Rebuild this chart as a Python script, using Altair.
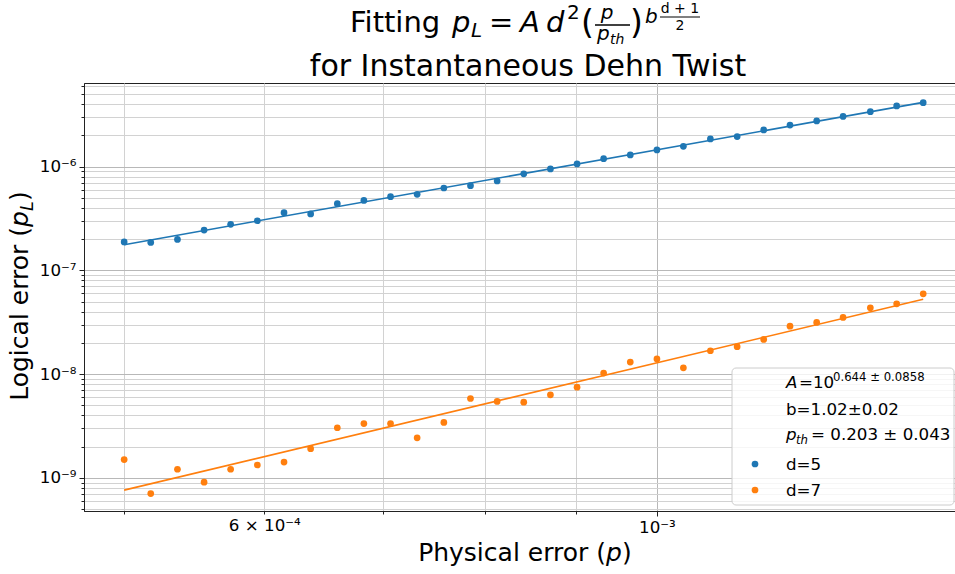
import altair as alt
import pandas as pd

# ---------------- data ----------------
p_values = [5.000e-4, 5.176e-4, 5.359e-4, 5.548e-4, 5.743e-4, 5.946e-4, 6.156e-4, 6.373e-4,
            6.598e-4, 6.830e-4, 7.071e-4, 7.320e-4, 7.579e-4, 7.846e-4, 8.123e-4, 8.409e-4,
            8.706e-4, 9.013e-4, 9.330e-4, 9.659e-4, 1.000e-3, 1.035e-3, 1.072e-3, 1.110e-3,
            1.149e-3, 1.189e-3, 1.231e-3, 1.274e-3, 1.320e-3, 1.366e-3, 1.414e-3]
pl_d5 = [1.88e-7, 1.86e-7, 1.99e-7, 2.45e-7, 2.78e-7, 3.01e-7, 3.60e-7, 3.50e-7,
         4.40e-7, 4.73e-7, 5.14e-7, 5.41e-7, 6.23e-7, 6.56e-7, 7.28e-7, 8.53e-7,
         9.51e-7, 1.062e-6, 1.194e-6, 1.297e-6, 1.45e-6, 1.57e-6, 1.85e-6, 1.95e-6,
         2.26e-6, 2.52e-6, 2.76e-6, 3.05e-6, 3.39e-6, 3.85e-6, 4.14e-6]
pl_d7 = [1.50e-9, 7.06e-10, 1.21e-9, 9.09e-10, 1.21e-9, 1.33e-9, 1.42e-9, 1.91e-9,
         3.04e-9, 3.34e-9, 3.34e-9, 2.43e-9, 3.42e-9, 5.82e-9, 5.45e-9, 5.37e-9,
         6.31e-9, 7.49e-9, 1.023e-8, 1.306e-8, 1.40e-8, 1.15e-8, 1.68e-8, 1.84e-8,
         2.16e-8, 2.90e-8, 3.15e-8, 3.52e-8, 4.36e-8, 4.76e-8, 5.94e-8]
fit_p = [5.0e-4, 1.414e-3]
fit_d5 = [1.77e-7, 4.17e-6]
fit_d7 = [7.61e-10, 5.28e-8]

series_names = ["d=5", "d=7"]
series_colors = ["#1f77b4", "#ff7f0e"]

x_ticks = [5e-4, 6e-4, 7e-4, 8e-4, 9e-4, 1e-3]
x_tick_labels = [(6e-4, "6 × 10⁻⁴"), (1e-3, "10⁻³")]
y_major_labels = [(-9, "10⁻⁹"), (-8, "10⁻⁸"), (-7, "10⁻⁷"), (-6, "10⁻⁶")]

title_line2 = "for Instantaneous Dehn Twist"
x_title_main = "Physical error ("
y_title_main = "Logical error ("
legend_A_exp = "0.644 ± 0.0858"
legend_b = "b=1.02±0.02"
legend_pth = "= 0.203 ± 0.043"

# ---------------- layout ----------------
LEFT, TOP, W, H = 84, 83, 871, 428
X_DOMAIN = [4.7455e-4, 1.4737e-3]
Y_DOMAIN = [4.79e-10, 6.41e-6]
FONT = "DejaVu Sans"

y_ticks = [m * 10.0 ** e for e in range(-10, -4) for m in range(1, 10)
           if Y_DOMAIN[0] <= m * 10.0 ** e <= Y_DOMAIN[1]]

MAJOR = "abs(log(datum.value)/LN10 - round(log(datum.value)/LN10)) < 0.001"


def label_expr_x():
    s = "''"
    for v, t in reversed(x_tick_labels):
        s = f"abs(datum.value - {v}) < 1e-10 ? '{t}' : ({s})"
    return s


def label_expr_y():
    s = "''"
    for e, t in reversed(y_major_labels):
        s = f"({MAJOR}) && round(log(datum.value)/LN10) == {e} ? '{t}' : ({s})"
    return s


def make_axis(values, expr):
    return alt.Axis(
        values=values, labelExpr=expr, title=None, grid=True,
        gridColor={"condition": {"test": MAJOR, "value": "#b8b8b8"}, "value": "#d2d2d2"},
        gridWidth=1,
        tickSize={"condition": {"test": MAJOR, "value": 5}, "value": 3},
        tickColor="#222222", tickWidth=1,
        domainColor="#222222", domainWidth=1,
        labelFont=FONT, labelFontSize=16.7, labelColor="black",
        labelPadding=3, labelFlush=False, labelOverlap=False,
    )


df = pd.DataFrame({
    "p": p_values + p_values,
    "pl": pl_d5 + pl_d7,
    "series": [series_names[0]] * len(pl_d5) + [series_names[1]] * len(pl_d7),
})
fit_df = pd.DataFrame({
    "p": fit_p + fit_p,
    "pl": fit_d5 + fit_d7,
    "series": [series_names[0]] * 2 + [series_names[1]] * 2,
})

x_enc = alt.X("p:Q", scale=alt.Scale(type="log", domain=X_DOMAIN, nice=False),
              axis=make_axis(x_ticks, label_expr_x()))
y_enc = alt.Y("pl:Q", scale=alt.Scale(type="log", domain=Y_DOMAIN, nice=False),
              axis=make_axis(y_ticks, label_expr_y()))
color_enc = alt.Color("series:N", scale=alt.Scale(domain=series_names, range=series_colors),
                      legend=None)

lines = alt.Chart(fit_df).mark_line(strokeWidth=1.6).encode(
    x=x_enc, y=y_enc, color=color_enc, detail="series:N")
points = alt.Chart(df).mark_circle(size=45, opacity=1).encode(
    x=x_enc, y=y_enc, color=color_enc)

ONE = alt.Data(values=[{"k": 0}])


def txt(text, x, y, size, italic=False, align="left", angle=None):
    kw = dict(text=text, font=FONT, fontSize=size, align=align,
              baseline="alphabetic", color="black")
    if italic:
        kw["fontStyle"] = "italic"
    if angle is not None:
        kw["angle"] = angle
    return alt.Chart(ONE).mark_text(**kw).encode(
        x=alt.value(x - LEFT), y=alt.value(y - TOP))


def hrule(x1, x2, y, width=1.3):
    return alt.Chart(ONE).mark_rule(color="black", strokeWidth=width).encode(
        x=alt.value(x1 - LEFT), x2=alt.value(x2 - LEFT), y=alt.value(y - TOP))


# title: Fitting p_L = A d^2 (p / p_th)^{b (d+1)/2}
title_layers = [
    txt("Fitting", 350, 32, 29),
    txt("p", 452, 32, 29, italic=True),
    txt("L", 471, 37, 20, italic=True),
    txt("=", 489, 32, 29),
    txt("A", 520, 32, 29, italic=True),
    txt("d", 546, 32, 29, italic=True),
    txt("2", 567, 19, 20),
    txt("(", 581, 34, 33),
    txt("p", 607, 19, 20, italic=True, align="center"),
    hrule(595, 630, 25),
    txt("p", 597, 40, 20, italic=True),
    txt("th", 610, 44, 14, italic=True),
    txt(")", 630, 34, 33),
    txt("b", 645, 23, 20, italic=True),
    txt("d + 1", 680, 13, 14, align="center"),
    hrule(660, 700, 17, 1.0),
    txt("2", 680, 30, 14, align="center"),
    txt(title_line2, 528, 76, 30, align="center"),
]

# axis titles
axis_title_layers = [
    txt(x_title_main, 606, 561, 25, align="right"),
    txt("p", 606, 561, 25, italic=True),
    txt(")", 622, 561, 25),
    txt(y_title_main, 28, 227, 25, align="right", angle=270),
    txt("p", 28, 227, 25, italic=True, angle=270),
    txt("L", 33, 211, 17.5, italic=True, angle=270),
    txt(")", 28, 201, 25, angle=270),
]

# legend box
legend_box = alt.Chart(ONE).mark_rect(
    fill="white", fillOpacity=0.8, stroke="#cccccc", strokeWidth=1, cornerRadius=4
).encode(x=alt.value(732 - LEFT), x2=alt.value(954 - LEFT),
         y=alt.value(368 - TOP), y2=alt.value(505 - TOP))


def legend_dot(color, y):
    return alt.Chart(ONE).mark_circle(size=45, opacity=1, color=color).encode(
        x=alt.value(755 - LEFT), y=alt.value(y - TOP))


legend_layers = [
    legend_box,
    txt("A", 786, 388, 16.7, italic=True),
    txt("=10", 799, 388, 16.7),
    txt(legend_A_exp, 833, 381, 11.7),
    txt(legend_b, 786, 415, 16.7),
    txt("p", 786, 440, 16.7, italic=True),
    txt("th", 796, 444, 11.7, italic=True),
    txt(legend_pth, 811, 440, 16.7),
    legend_dot(series_colors[0], 464),
    txt(series_names[0], 786, 470, 16.7),
    legend_dot(series_colors[1], 490),
    txt(series_names[1], 786, 496, 16.7),
]

chart = alt.layer(
    lines, points, *legend_layers, *title_layers, *axis_title_layers
).properties(
    width=W, height=H,
    autosize=alt.AutoSizeParams(type="none"),
    padding={"left": LEFT, "top": TOP, "right": 0, "bottom": 574 - TOP - H},
    background="white",
).configure_view(stroke="#222222", strokeWidth=1)

chart.save("out.html", embed_options={"renderer": "svg", "actions": False})
